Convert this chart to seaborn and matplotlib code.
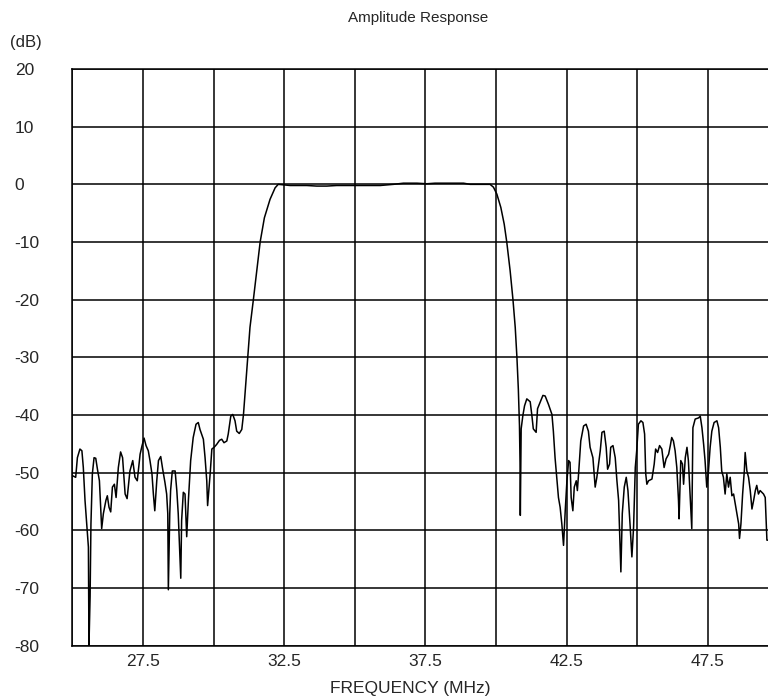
import numpy as np
import pandas as pd
import matplotlib
matplotlib.use("Agg")
import matplotlib.pyplot as plt
import seaborn as sns

# 下阻带 (MHz, dB)
low_stop_f = [25.00, 25.12, 25.18, 25.27, 25.34, 25.39, 25.45, 25.51, 25.57, 25.59,
              25.63, 25.66, 25.71, 25.77, 25.83, 25.89, 25.96, 26.04, 26.10, 26.19,
              26.24, 26.30, 26.36, 26.42, 26.49, 26.55, 26.63, 26.71, 26.78, 26.87,
              26.94, 27.04, 27.14, 27.22, 27.30, 27.40, 27.47, 27.54, 27.61, 27.69,
              27.75, 27.82, 27.87, 27.92, 27.99, 28.05, 28.13, 28.20, 28.28, 28.34,
              28.38, 28.40, 28.45, 28.48, 28.54, 28.64, 28.70, 28.75, 28.84, 28.87,
              28.93, 28.99, 29.05, 29.11, 29.19, 29.28, 29.38, 29.46, 29.52, 29.64,
              29.70, 29.76, 29.79, 29.88, 29.94, 30.02, 30.11, 30.21, 30.29, 30.37,
              30.47, 30.52, 30.61, 30.68, 30.76, 30.82, 30.91, 31.00, 31.06]
low_stop_db = [-50.5, -50.8, -47.4, -45.9, -46.2, -49.1, -54.8, -58.9, -62.9, -80.0,
               -71.5, -58.9, -50.2, -47.4, -47.5, -49.4, -51.4, -59.7, -57.1, -54.8,
               -54.0, -56.0, -56.8, -52.5, -52.0, -54.3, -49.1, -46.4, -47.4, -53.7,
               -54.5, -49.7, -47.9, -50.8, -51.4, -46.8, -45.3, -44.0, -45.3, -46.2,
               -47.9, -50.2, -53.7, -56.6, -51.4, -47.9, -47.2, -49.4, -51.7, -53.7,
               -57.1, -70.3, -57.1, -53.1, -49.7, -49.7, -53.1, -57.1, -68.3, -58.3,
               -53.4, -53.7, -61.1, -54.8, -47.9, -43.9, -41.6, -41.3, -42.5, -44.2,
               -47.4, -51.4, -55.7, -50.2, -45.9, -45.6, -45.1, -44.4, -44.2, -44.8,
               -44.5, -43.3, -40.2, -39.9, -41.0, -42.8, -43.2, -42.5, -39.9]

# 上升沿 + 通带 + 下降沿
band_f = [31.12, 31.21, 31.29, 31.41, 31.53, 31.65, 31.80, 32.00, 32.18, 32.29,
          32.71, 33.30, 33.65, 34.01, 34.36, 35.07, 35.90, 36.37, 36.72, 37.20,
          37.55, 37.84, 38.85, 39.08, 39.79,
          39.91, 40.03, 40.17, 40.29, 40.38, 40.50, 40.60, 40.68, 40.74, 40.79,
          40.83, 40.85, 40.86, 40.89, 40.95, 41.01, 41.09, 41.21, 41.27, 41.32,
          41.42, 41.47]
band_db = [-36.0, -30.0, -24.8, -20.0, -15.0, -10.0, -5.8, -2.6, -0.6, 0.0,
           -0.2, -0.2, -0.3, -0.3, -0.2, -0.2, -0.2, 0.0, 0.2, 0.2,
           0.1, 0.2, 0.2, 0.0, 0.0,
           -0.5, -1.7, -4.0, -6.9, -10.0, -15.0, -20.0, -24.8, -30.0, -35.5,
           -41.8, -48.3, -57.4, -42.4, -40.1, -38.4, -37.2, -37.7, -40.1, -42.4,
           -43.0, -38.9]

# 上阻带
high_stop_f = [41.66, 41.74, 41.86, 41.98, 42.03, 42.09, 42.15, 42.21, 42.27, 42.33,
               42.39, 42.45, 42.51, 42.57, 42.62, 42.66, 42.72, 42.77, 42.84, 42.88,
               42.93, 43.00, 43.10, 43.19, 43.27, 43.33, 43.43, 43.51, 43.57, 43.63,
               43.69, 43.75, 43.83, 43.90, 43.95, 44.02, 44.06, 44.14, 44.22, 44.28,
               44.34, 44.39, 44.42, 44.47, 44.54, 44.61, 44.67, 44.75, 44.81, 44.87,
               44.93, 44.98, 45.04, 45.13, 45.20, 45.26, 45.30, 45.34, 45.40, 45.52,
               45.60, 45.65, 45.72, 45.79, 45.87, 45.95, 46.02, 46.11, 46.17, 46.22,
               46.28, 46.34, 46.40, 46.46, 46.48, 46.54, 46.60, 46.64, 46.70, 46.76,
               46.81, 46.87, 46.93, 46.97, 47.05, 47.17, 47.23, 47.29, 47.35, 47.40,
               47.46, 47.52, 47.58, 47.64, 47.72, 47.82, 47.88, 47.94, 47.99, 48.05,
               48.11, 48.17, 48.23, 48.29, 48.35, 48.41, 48.47, 48.53, 48.59, 48.62,
               48.67, 48.73, 48.79, 48.82, 48.88, 48.94, 49.00, 49.06, 49.12, 49.18,
               49.23, 49.29, 49.35, 49.47, 49.53, 49.59, 49.64]
high_stop_db = [-36.6, -36.7, -38.2, -39.9, -42.8, -47.4, -50.8, -54.3, -56.0, -58.9,
                -62.6, -56.6, -51.4, -47.9, -48.2, -54.3, -56.6, -52.5, -51.4, -53.1,
                -49.7, -44.5, -41.9, -41.6, -42.8, -45.6, -47.4, -52.5, -50.8, -48.5,
                -46.2, -43.0, -42.8, -45.6, -49.4, -48.5, -45.6, -45.3, -47.4, -51.4,
                -54.8, -62.3, -67.2, -57.1, -52.5, -50.8, -53.1, -59.4, -64.6, -59.4,
                -49.1, -46.2, -41.6, -41.0, -41.3, -43.3, -50.2, -52.0, -51.4, -51.1,
                -48.5, -45.9, -46.5, -45.3, -45.9, -49.1, -47.6, -46.8, -45.3, -43.9,
                -44.5, -46.2, -49.1, -54.8, -58.0, -47.9, -48.5, -52.0, -47.4, -45.6,
                -47.9, -53.7, -59.7, -42.2, -40.7, -40.5, -40.2, -42.2, -45.1, -47.9,
                -52.5, -49.7, -45.6, -42.8, -41.3, -41.0, -42.2, -45.6, -49.7, -50.8,
                -53.7, -50.2, -52.5, -50.8, -54.0, -53.7, -55.4, -57.1, -58.9, -61.4,
                -58.9, -53.7, -49.7, -46.5, -49.7, -50.8, -53.1, -56.3, -54.8, -53.1,
                -52.2, -53.7, -53.1, -53.7, -54.3, -61.7, -61.7]

x_ticks = [27.5, 32.5, 37.5, 42.5, 47.5]
y_ticks = [20, 10, 0, -10, -20, -30, -40, -50, -60, -70, -80]

df = pd.DataFrame({
    "freq": low_stop_f + band_f + high_stop_f,
    "amp": low_stop_db + band_db + high_stop_db,
})

sns.set_style("white")
plt.rcParams["font.family"] = ["Liberation Sans", "DejaVu Sans"]

fig = plt.figure(figsize=(7.68, 6.98), dpi=100)
W, H = 768, 698
# 坐标区右侧超出画布（原图被裁切）
ax = fig.add_axes([72.3 / W, (H - 645.7) / H, 706.2 / W, 576.7 / H])

sns.lineplot(data=df, x="freq", y="amp", ax=ax, color="black", linewidth=1.1,
             sort=False, estimator=None)

ax.set_xlim(25, 50)
ax.set_ylim(-80, 20)
ax.set_xticks(np.arange(25, 50.01, 2.5), minor=True)
ax.set_xticks(x_ticks)
ax.set_xticklabels([f"{v:.1f}" for v in x_ticks], fontsize=12.5)
ax.set_yticks(y_ticks)
ax.set_yticklabels([str(v) for v in y_ticks], fontsize=12.5)
for lab in ax.get_yticklabels():
    lab.set_horizontalalignment("left")
ax.tick_params(axis="y", length=0, pad=41.5)
ax.tick_params(axis="x", which="both", length=0, pad=6)

ax.grid(True, which="both", axis="x", color="black", linewidth=1.1)
ax.grid(True, which="major", axis="y", color="black", linewidth=1.1)
for s in ax.spines.values():
    s.set_color("black")
    s.set_linewidth(1.1)
ax.set_xlabel("")
ax.set_ylabel("")

fig.text(418 / W, 1 - 18 / H, "Amplitude Response", ha="center", va="center", fontsize=11)
fig.text(410 / W, 1 - 688 / H, "FREQUENCY (MHz)", ha="center", va="center", fontsize=12.5)
fig.text(10 / W, 1 - 43 / H, "(dB)", ha="left", va="center", fontsize=12)

fig.savefig("out.png", dpi=100)
